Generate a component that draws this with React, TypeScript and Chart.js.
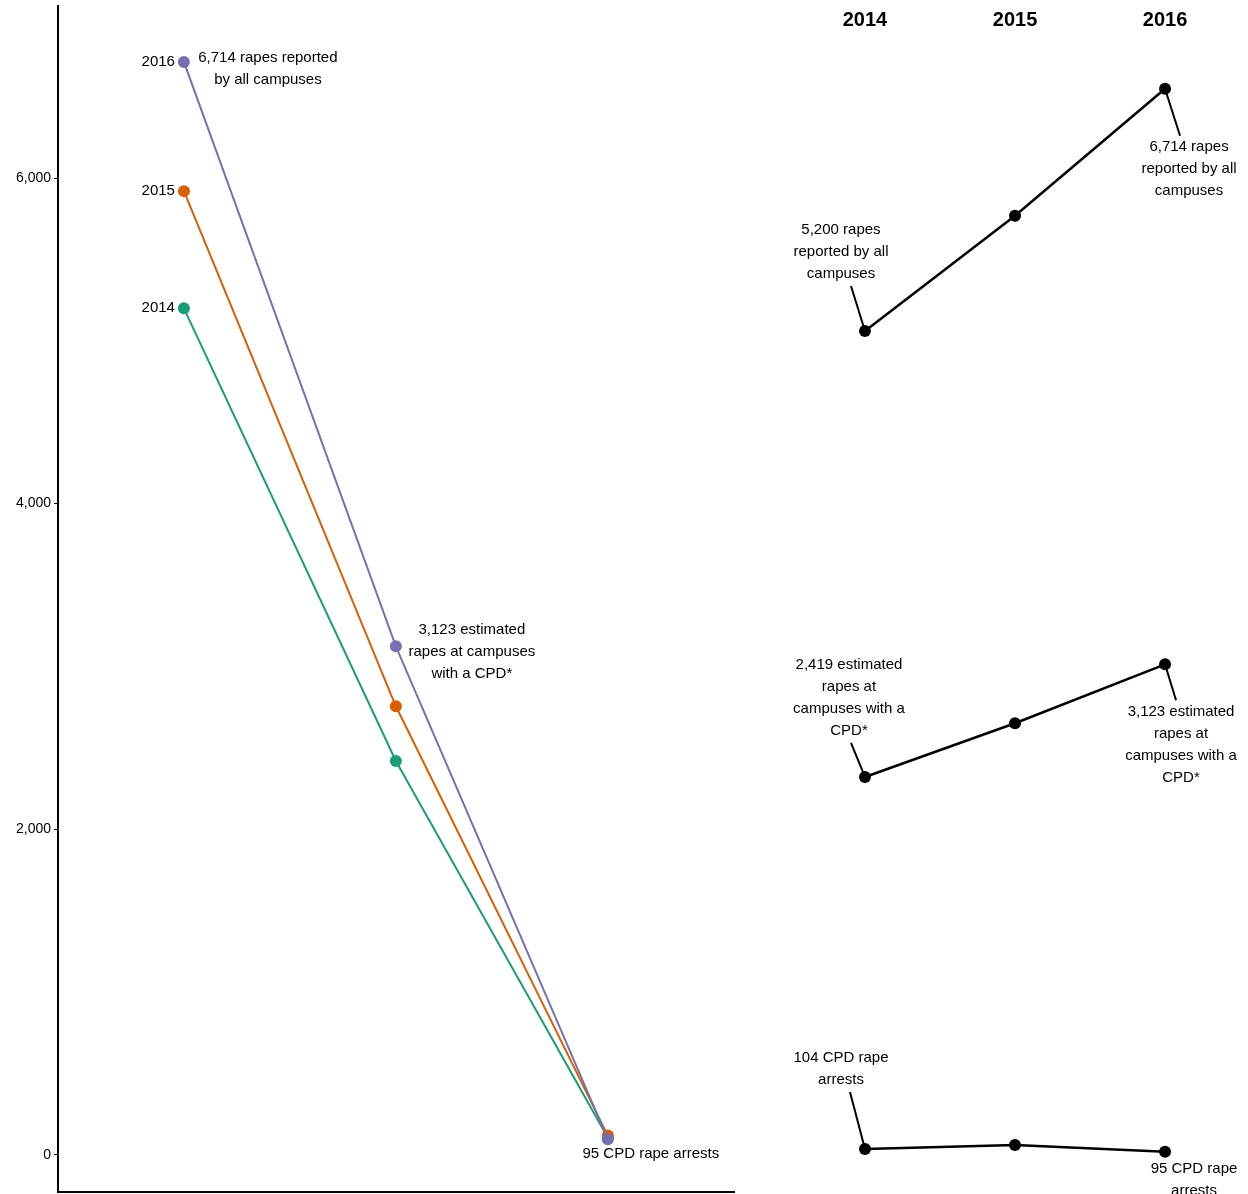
import React, { useEffect, useRef } from "react";
import { Chart, registerables } from "chart.js";
Chart.register(...registerables);

const years = ["2014", "2015", "2016"];
const stages = ["All campuses", "Campuses with a CPD", "CPD rape arrests"];
const v2014 = [5200, 2419, 104];
const v2015 = [5920, 2755, 117];
const v2016 = [6714, 3123, 95];
const colors = ["#1b9e77", "#d95f02", "#7570b3"];
const allCampuses = [5200, 5920, 6714];
const cpdCampuses = [2419, 2755, 3123];
const arrests = [104, 117, 95];
const yTicks = [0, 2000, 4000, 6000];

const FONT = "'Liberation Sans', Arial, sans-serif";

type Note = { ds: number; idx: number; lines: string[]; dx: number; dys: number[]; align?: CanvasTextAlign; leader?: [number, number] };

const notesPlugin = {
  id: "notes",
  afterDatasetsDraw(chart: any) {
    const opts = chart.options.plugins.notes || {};
    const ctx = chart.ctx;
    ctx.save();
    ctx.fillStyle = "#000";
    ctx.strokeStyle = "#000";
    ctx.lineWidth = 2;
    ctx.font = `15px ${FONT}`;
    ctx.textBaseline = "middle";
    (opts.notes || []).forEach((n: Note) => {
      const p = chart.getDatasetMeta(n.ds).data[n.idx];
      if (n.leader) {
        ctx.beginPath();
        ctx.moveTo(p.x + n.leader[0], p.y + n.leader[1]);
        ctx.lineTo(p.x, p.y);
        ctx.stroke();
      }
      ctx.textAlign = n.align || "center";
      n.lines.forEach((l, i) => ctx.fillText(l, p.x + n.dx, p.y + n.dys[i]));
    });
    if (opts.headers) {
      ctx.font = `bold 20px ${FONT}`;
      ctx.textAlign = "center";
      const meta = chart.getDatasetMeta(0);
      years.forEach((y, i) => ctx.fillText(y, meta.data[i].x, 20));
    }
    ctx.restore();
  },
};

function useChart(ref: any, cfg: () => any) {
  useEffect(() => {
    const c = new Chart(ref.current, { ...cfg(), plugins: [notesPlugin] });
    return () => c.destroy();
  }, []);
}

function LeftChart() {
  const ref = useRef<HTMLCanvasElement>(null);
  useChart(ref, () => ({
    type: "line",
    data: {
      datasets: [v2014, v2015, v2016].map((vals, k) => ({
        label: years[k],
        data: vals.map((v, i) => ({ x: i, y: v })),
        borderColor: colors[k],
        backgroundColor: colors[k],
        borderWidth: 2,
        pointRadius: 6,
        pointBorderWidth: 0,
        order: 2 - k,
      })),
    },
    options: {
      animation: false,
      responsive: false,
      layout: { autoPadding: false, padding: { top: 5, right: 0, bottom: 0, left: 0 } },
      plugins: {
        legend: { display: false },
        tooltip: { enabled: false },
        notes: {
          notes: [
            { ds: 2, idx: 0, lines: ["2016"], dx: -9, dys: [0], align: "right" },
            { ds: 1, idx: 0, lines: ["2015"], dx: -9, dys: [0], align: "right" },
            { ds: 0, idx: 0, lines: ["2014"], dx: -9, dys: [0], align: "right" },
            { ds: 2, idx: 0, lines: ["6,714 rapes reported", "by all campuses"], dx: 84, dys: [-4, 18] },
            { ds: 2, idx: 1, lines: ["3,123 estimated", "rapes at campuses", "with a CPD*"], dx: 76, dys: [-17, 5, 27] },
            { ds: 2, idx: 2, lines: ["95 CPD rape arrests"], dx: 43, dys: [15] },
          ],
        },
      },
      scales: {
        x: {
          type: "linear",
          min: -0.594,
          max: 2.6,
          grid: { display: false },
          ticks: { display: false },
          border: { display: true, color: "#000", width: 2 },
          afterFit: (s: any) => { s.height = 2; },
        },
        y: {
          min: -227,
          max: 7055,
          grid: { display: true, drawOnChartArea: false, drawTicks: true, tickLength: 4, color: "#000" },
          border: { display: true, color: "#000", width: 2 },
          ticks: { color: "#000", font: { family: FONT, size: 14 }, padding: 3, callback: (v: any) => Number(v).toLocaleString("en-US") },
          afterBuildTicks: (s: any) => { s.ticks = yTicks.map((v) => ({ value: v })); },
          afterFit: (s: any) => { s.width = 58; },
        },
      },
    },
  }));
  return <canvas ref={ref} width={735} height={1208} style={{ position: "absolute", left: 0, top: -5 }} />;
}

function SmallChart(props: { vals: number[]; min: number; max: number; top: number; height: number; notes: Note[]; headers?: boolean }) {
  const ref = useRef<HTMLCanvasElement>(null);
  useChart(ref, () => ({
    type: "line",
    data: {
      datasets: [{
        data: props.vals.map((v, i) => ({ x: i, y: v })),
        borderColor: "#000",
        backgroundColor: "#000",
        borderWidth: 2.5,
        pointRadius: 6,
        pointBorderWidth: 0,
      }],
    },
    options: {
      animation: false,
      responsive: false,
      layout: { autoPadding: false, padding: 0 },
      plugins: { legend: { display: false }, tooltip: { enabled: false }, notes: { notes: props.notes, headers: props.headers } },
      scales: {
        x: { type: "linear", display: false, min: -0.833, max: 2.553 },
        y: { display: false, min: props.min, max: props.max },
      },
    },
  }));
  return <canvas ref={ref} width={508} height={props.height} style={{ position: "absolute", left: 740, top: props.top }} />;
}

export default function App() {
  return (
    <div style={{ position: "absolute", left: 0, top: 0, width: 1248, height: 1194, background: "#fff", overflow: "hidden" }}>
      <LeftChart />
      <SmallChart vals={allCampuses} min={5081.25} max={7268.75} top={0} height={350} headers
        notes={[
          { ds: 0, idx: 0, lines: ["5,200 rapes", "reported by all", "campuses"], dx: -24, dys: [-101, -79, -57], leader: [-14, -45] },
          { ds: 0, idx: 2, lines: ["6,714 rapes", "reported by all", "campuses"], dx: 24, dys: [58, 80, 102], leader: [15, 47] },
        ]} />
      <SmallChart vals={cpdCampuses} min={1962.75} max={3525} top={600} height={250}
        notes={[
          { ds: 0, idx: 0, lines: ["2,419 estimated", "rapes at", "campuses with a", "CPD*"], dx: -16, dys: [-112, -90, -68, -46], leader: [-14, -34] },
          { ds: 0, idx: 2, lines: ["3,123 estimated", "rapes at", "campuses with a", "CPD*"], dx: 16, dys: [48, 70, 92, 114], leader: [11, 36] },
        ]} />
      <SmallChart vals={arrests} min={-46} max={600.7} top={1000} height={194}
        notes={[
          { ds: 0, idx: 0, lines: ["104 CPD rape", "arrests"], dx: -24, dys: [-91, -69], leader: [-15, -57] },
          { ds: 0, idx: 2, lines: ["95 CPD rape", "arrests"], dx: 29, dys: [17, 39] },
        ]} />
    </div>
  );
}
